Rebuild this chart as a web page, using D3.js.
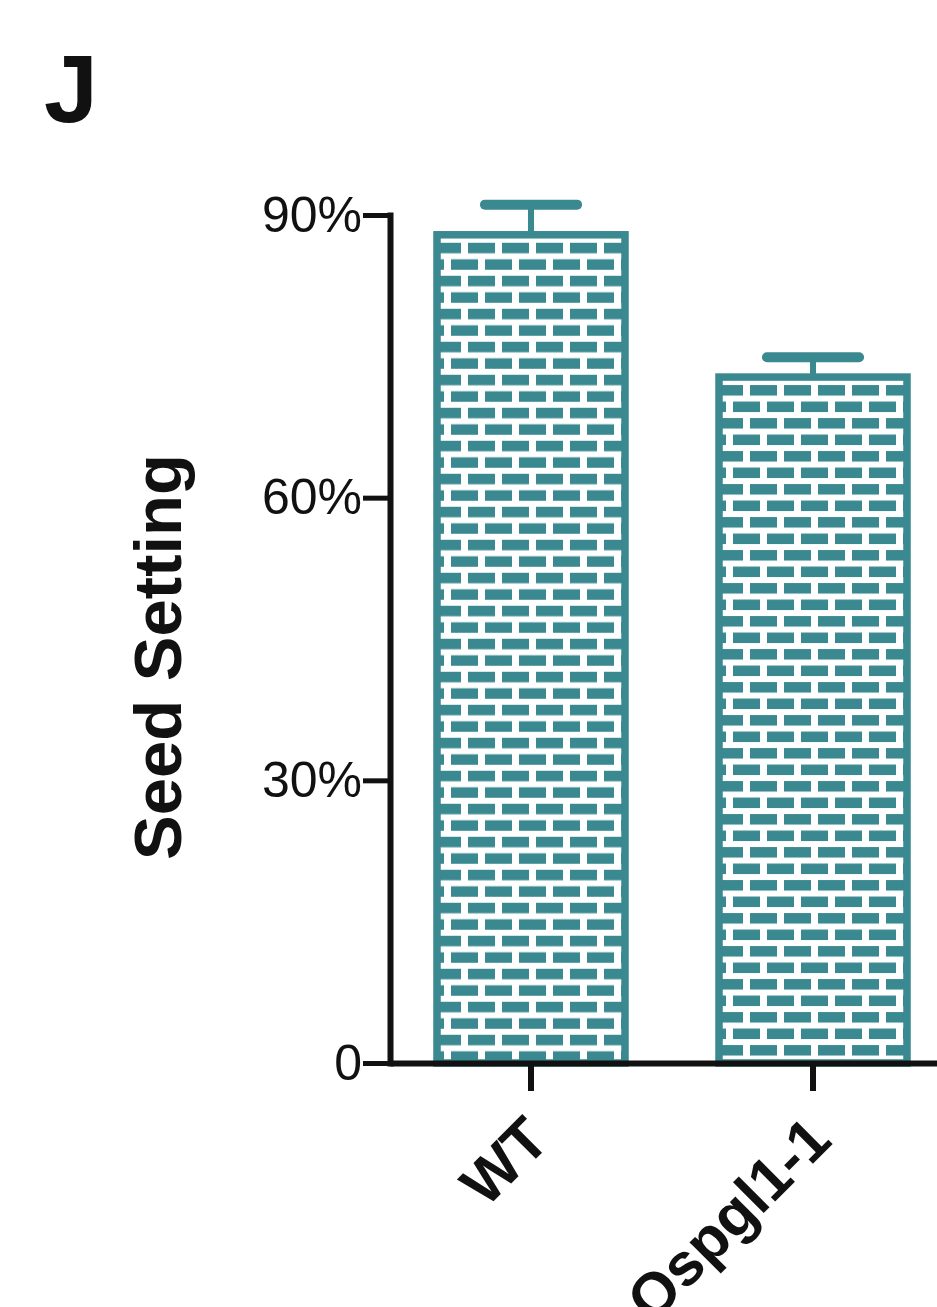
<!DOCTYPE html>
<html><head><meta charset="utf-8">
<script src="https://cdn.jsdelivr.net/npm/d3@7"></script>
<style>body{margin:0;background:#fff}</style>
</head><body>
<svg id="chart" width="937" height="1307"></svg>
<script>
const categories = ["WT", "Ospgl1-1"];
const seedSetting = [87.9, 72.8];
const sem = [3.2, 2.1];
const yTicks = [0, 30, 60, 90];
const yTickLabels = ["0", "30%", "60%", "90%"];
const panelLabel = "J";
const yTitle = "Seed Setting";

const teal = "#3a8890";
const ink = "#111";
const font = "'Liberation Sans', Arial, Helvetica, sans-serif";
const svg = d3.select("#chart");

const y = d3.scaleLinear().domain([0, 90]).range([1063, 215]);
const x = d3.scaleBand().domain(categories).range([390, 954])
  .paddingInner(1/3).paddingOuter(1/6);
const bw = x.bandwidth();

// brick patterns (one per bar so rows start under the top edge)
const defs = svg.append("defs");
const pw = 34, ph = 33, bh = 10.5;
categories.forEach((c, i) => {
  const p = defs.append("pattern").attr("id", "brick" + i)
    .attr("patternUnits", "userSpaceOnUse")
    .attr("x", x(c)).attr("y", y(seedSetting[i]) + 8)
    .attr("width", pw).attr("height", ph);
  p.append("rect").attr("width", pw).attr("height", ph).attr("fill", "#fff");
  const bricks = [[0, 0, 24], [0, 31, 34], [ph/2, 14, 34], [ph/2, 0, 7]];
  bricks.forEach(b => p.append("rect").attr("x", b[1]).attr("y", b[0])
    .attr("width", b[2] - b[1]).attr("height", bh).attr("fill", teal));
});

// bars
svg.append("g").selectAll("rect").data(categories).join("rect")
  .attr("x", d => x(d)).attr("y", (d, i) => y(seedSetting[i]))
  .attr("width", bw).attr("height", (d, i) => y(0) - y(seedSetting[i]))
  .attr("fill", (d, i) => `url(#brick${i})`)
  .attr("stroke", teal).attr("stroke-width", 7.5);

// error bars
const eb = svg.append("g");
eb.selectAll("line.v").data(categories).join("line").attr("class", "v")
  .attr("x1", d => x(d) + bw/2).attr("x2", d => x(d) + bw/2)
  .attr("y1", (d, i) => y(seedSetting[i])).attr("y2", (d, i) => y(seedSetting[i] + sem[i]))
  .attr("stroke", teal).attr("stroke-width", 6);
eb.selectAll("line.c").data(categories).join("line").attr("class", "c")
  .attr("x1", d => x(d) + bw/2 - bw*0.245).attr("x2", d => x(d) + bw/2 + bw*0.245)
  .attr("y1", (d, i) => y(seedSetting[i] + sem[i])).attr("y2", (d, i) => y(seedSetting[i] + sem[i]))
  .attr("stroke", teal).attr("stroke-width", 10).attr("stroke-linecap", "round");

// y axis
const ya = svg.append("g").attr("transform", "translate(390,0)")
  .call(d3.axisLeft(y).tickValues(yTicks).tickSize(27).tickSizeOuter(0).tickPadding(1)
    .tickFormat((d, i) => yTickLabels[i]));
ya.select(".domain").attr("stroke", ink).attr("stroke-width", 6).attr("stroke-linecap", "square");
ya.selectAll(".tick line").attr("stroke", ink).attr("stroke-width", 5);
ya.selectAll(".tick text").attr("fill", ink).style("font", `50px ${font}`);

// x axis
const xa = svg.append("g").attr("transform", "translate(0,1063)")
  .call(d3.axisBottom(x).tickSize(28).tickSizeOuter(0).tickFormat(() => ""));
xa.select(".domain").attr("stroke", ink).attr("stroke-width", 6);
xa.selectAll(".tick line").attr("stroke", ink).attr("stroke-width", 6);

svg.append("g").selectAll("text").data(categories).join("text")
  .attr("transform", d => `translate(${x(d) + bw/2 + 6},1128) rotate(-45)`)
  .attr("text-anchor", "end").attr("dy", "0.35em")
  .attr("fill", ink).style("font", `bold 60px ${font}`)
  .text(d => d);

// y title
svg.append("text").attr("transform", "translate(158,657) rotate(-90)")
  .attr("text-anchor", "middle").attr("dy", "0.35em")
  .attr("fill", ink).style("font", `bold 67px ${font}`).text(yTitle);

// panel label
svg.append("text").attr("x", 44).attr("y", 122)
  .attr("fill", ink).style("font", `bold 97px ${font}`).text(panelLabel);
</script>
</body></html>
